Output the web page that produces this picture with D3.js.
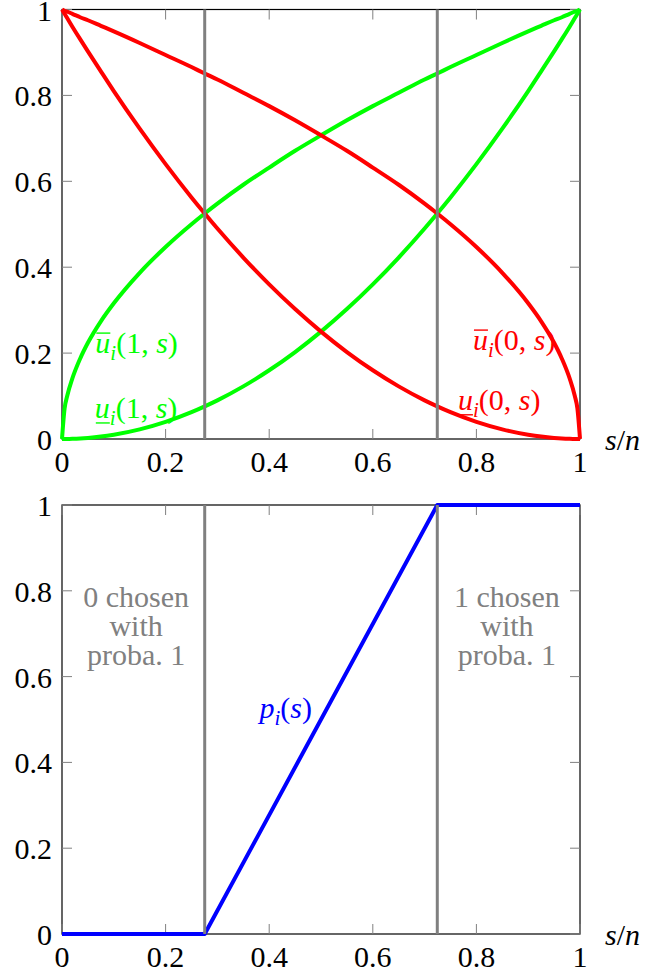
<!DOCTYPE html>
<html lang="en">
<head>
<meta charset="UTF-8" />
<title>Utilities and choice probability</title>
<script src="https://d3js.org/d3.v7.min.js"></script>
<style>
  body { margin: 0; background: #fff; }
  svg text { font-family: "Liberation Serif", "Times New Roman", "DejaVu Serif", "Noto Serif", serif; font-size: 30px; }
  .tick-line { stroke: #808080; stroke-width: 1; }
  .frame { fill: none; stroke: #000; stroke-width: 1.2; }
  .curve { fill: none; stroke-width: 4; stroke-linejoin: round; }
  .threshold { stroke: #808080; stroke-width: 3; }
</style>
</head>
<body>
<svg width="653" height="976"></svg>
<script>
// s/n grid
const sValues = [0, 0.005, 0.01, 0.02, 0.035, 0.05, 0.075, 0.1, 0.15, 0.2, 0.25, 0.2755, 0.3, 0.35, 0.4, 0.45, 0.5,
                 0.55, 0.6, 0.65, 0.7, 0.7245, 0.75, 0.8, 0.85, 0.9, 0.925, 0.95, 0.965, 0.98, 0.99, 0.995, 1];
// green, upper: u-bar_i(1, s)
const upperOne = [0, 0.071, 0.1, 0.141, 0.187, 0.224, 0.274, 0.316, 0.387, 0.447, 0.5, 0.525, 0.548, 0.592, 0.632, 0.671, 0.707,
                  0.742, 0.775, 0.806, 0.837, 0.851, 0.866, 0.894, 0.922, 0.949, 0.962, 0.975, 0.982, 0.99, 0.995, 0.997, 1];
// green, lower: u-underbar_i(1, s)
const lowerOne = [0, 0, 0.0001, 0.0004, 0.0012, 0.0025, 0.0056, 0.01, 0.0225, 0.04, 0.0625, 0.076, 0.09, 0.1225, 0.16, 0.2025, 0.25,
                  0.3025, 0.36, 0.4225, 0.49, 0.525, 0.5625, 0.64, 0.7225, 0.81, 0.856, 0.9025, 0.931, 0.96, 0.98, 0.99, 1];
// red, upper: u-bar_i(0, s)
const upperZero = [1, 0.997, 0.995, 0.99, 0.982, 0.975, 0.962, 0.949, 0.922, 0.894, 0.866, 0.851, 0.837, 0.806, 0.775, 0.742, 0.707,
                   0.671, 0.632, 0.592, 0.548, 0.525, 0.5, 0.447, 0.387, 0.316, 0.274, 0.224, 0.187, 0.141, 0.1, 0.071, 0];
// red, lower: u-underbar_i(0, s)
const lowerZero = [1, 0.99, 0.98, 0.96, 0.931, 0.9025, 0.856, 0.81, 0.7225, 0.64, 0.5625, 0.525, 0.49, 0.4225, 0.36, 0.3025, 0.25,
                   0.2025, 0.16, 0.1225, 0.09, 0.076, 0.0625, 0.04, 0.0225, 0.01, 0.0056, 0.0025, 0.0012, 0.0004, 0.0001, 0, 0];

// bottom panel: p_i(s)
const sProba = [0, 0.2755, 0.7245, 1];
const pValues = [0, 0, 1, 1];

// vertical gray thresholds
const thresholds = [0.2755, 0.7245];

const tickValues = [0, 0.2, 0.4, 0.6, 0.8, 1];
const tickLabels = ["0", "0.2", "0.4", "0.6", "0.8", "1"];

const svg = d3.select("svg");
const left = 62, right = 580;

function makePanel(top, bottom) {
    const g = svg.append("g");
    const x = d3.scaleLinear().domain([0, 1]).range([left, right]);
    const y = d3.scaleLinear().domain([0, 1]).range([bottom, top]);

    g.append("rect").attr("class", "frame")
        .attr("x", left).attr("y", top)
        .attr("width", right - left).attr("height", bottom - top);

    const tl = 10;
    tickValues.forEach((v, i) => {
        // bottom + top ticks
        g.append("line").attr("class", "tick-line")
            .attr("x1", x(v)).attr("x2", x(v)).attr("y1", bottom).attr("y2", bottom - tl);
        g.append("line").attr("class", "tick-line")
            .attr("x1", x(v)).attr("x2", x(v)).attr("y1", top).attr("y2", top + tl);
        // left + right ticks
        g.append("line").attr("class", "tick-line")
            .attr("y1", y(v)).attr("y2", y(v)).attr("x1", left).attr("x2", left + tl);
        g.append("line").attr("class", "tick-line")
            .attr("y1", y(v)).attr("y2", y(v)).attr("x1", right).attr("x2", right - tl);

        g.append("text").attr("x", x(v)).attr("y", bottom + 33)
            .attr("text-anchor", "middle").text(tickLabels[i]);
        g.append("text").attr("x", left - 10).attr("y", y(v) + 11)
            .attr("text-anchor", "end").text(tickLabels[i]);
    });

    const xl = g.append("text").attr("x", 605).attr("y", bottom + 11);
    xl.append("tspan").attr("font-style", "italic").text("s");
    xl.append("tspan").text("/");
    xl.append("tspan").attr("font-style", "italic").text("n");

    return { g, x, y };
}

// parts: [text, italic, subscript, undoSubscript]
function mathLabel(g, cx, cy, parts, color, deco) {
    const t = g.append("text").attr("x", cx).attr("y", cy)
        .attr("text-anchor", "middle").attr("fill", color);
    parts.forEach(p => {
        const ts = t.append("tspan").text(p[0]);
        if (p[1]) ts.attr("font-style", "italic");
        if (p[2]) ts.attr("font-size", "21px").attr("dy", 7);
        else if (p[3]) ts.attr("dy", -7);
    });
    if (deco) {
        const ext = t.node().getExtentOfChar(0);
        const ly = deco === "over" ? cy - 20 : cy + 5;
        g.append("line").attr("x1", ext.x + 1).attr("x2", ext.x + ext.width)
            .attr("y1", ly).attr("y2", ly)
            .attr("stroke", color).attr("stroke-width", 1.4);
    }
}

function uParts(arg) {
    return [["u", true], ["i", true, true], ["(", false, false, true], [arg, false], [", ", false], ["s", true], [")", false]];
}

// ---- top panel
const A = makePanel(9.5, 439);
const lineA = d3.line().x((d, i) => A.x(sValues[i])).y(d => A.y(d)).curve(d3.curveMonotoneX);

[[upperOne, "#00ff00"], [lowerOne, "#00ff00"], [upperZero, "#ff0000"], [lowerZero, "#ff0000"]].forEach(c => {
    A.g.append("path").attr("class", "curve").attr("stroke", c[1]).attr("d", lineA(c[0]));
});
thresholds.forEach(t => {
    A.g.append("line").attr("class", "threshold")
        .attr("x1", A.x(t)).attr("x2", A.x(t)).attr("y1", A.y(0)).attr("y2", A.y(1));
});

mathLabel(A.g, A.x(0.144), A.y(0.2), uParts("1"), "#00ff00", "over");
mathLabel(A.g, A.x(0.143), A.y(0.049), uParts("1"), "#00ff00", "under");
mathLabel(A.g, A.x(0.873), A.y(0.207), uParts("0"), "#ff0000", "over");
mathLabel(A.g, A.x(0.844), A.y(0.068), uParts("0"), "#ff0000", "under");

// ---- bottom panel
const B = makePanel(505, 934);
const lineB = d3.line().x((d, i) => B.x(sProba[i])).y(d => B.y(d));
B.g.append("path").attr("class", "curve").attr("stroke", "#0000ff").attr("d", lineB(pValues));
thresholds.forEach(t => {
    B.g.append("line").attr("class", "threshold")
        .attr("x1", B.x(t)).attr("x2", B.x(t)).attr("y1", B.y(0)).attr("y2", B.y(1));
});

mathLabel(B.g, B.x(0.432), B.y(0.503),
    [["p", true], ["i", true, true], ["(", false, false, true], ["s", true], [")", false]], "#0000ff", null);

const notes = [
    { s: 0.143, lines: ["0 chosen", "with", "proba. 1"] },
    { s: 0.859, lines: ["1 chosen", "with", "proba. 1"] }
];
notes.forEach(n => {
    n.lines.forEach((l, i) => {
        B.g.append("text").attr("x", B.x(n.s)).attr("y", B.y(0.762) + i * 29)
            .attr("text-anchor", "middle").attr("fill", "#808080").text(l);
    });
});
</script>
</body>
</html>
